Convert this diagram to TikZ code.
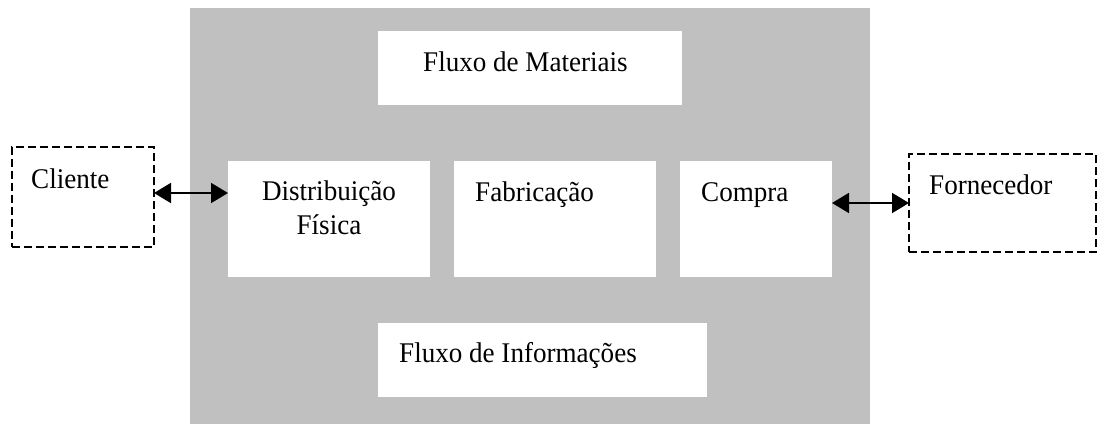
\documentclass[tikz,border=0pt]{standalone}
\usepackage{fontspec}
\setmainfont{Liberation Serif}[FakeStretch=0.95]
\usepackage{tikz}
\usetikzlibrary{arrows.meta}
\definecolor{fundo}{HTML}{C0C0C0}
\tikzset{
  box/.style={fill=white, inner sep=0pt, outer sep=0pt},
  ext/.style={draw, line width=2.2pt, dash pattern=on 8pt off 4pt, inner sep=0pt, outer sep=0pt},
  txt/.style={inner sep=0pt, anchor=base west, font=\fontsize{28.5pt}{33.5pt}\selectfont},
  dbl/.style={line width=1.8pt, {Triangle[length=17pt,width=20pt]}-{Triangle[length=17pt,width=20pt]}}
}
\begin{document}
\begin{tikzpicture}[x=1pt,y=-1pt]
\useasboundingbox (0,0) rectangle (1098,425);
% nodes
\node[fill=fundo, inner sep=0pt, minimum width=680pt, minimum height=416pt] (bg) at (530,216) {};%
\node[box, minimum width=304pt, minimum height=74pt] (mat) at (530,68) {};%
\node[box, minimum width=202pt, minimum height=116pt] (dist) at (329,219) {};%
\node[box, minimum width=202pt, minimum height=116pt] (fab) at (555,219) {};%
\node[box, minimum width=152pt, minimum height=116pt] (comp) at (756,219) {};%
\node[box, minimum width=329pt, minimum height=74pt] (info) at (542.5,360) {};%
\node[ext, minimum width=142pt, minimum height=100pt] (cli) at (83,197) {};%
\node[ext, minimum width=187pt, minimum height=98pt] (forn) at (1002.5,203) {};%

% texts
\node[txt] (tmat) at (423,72) {Fluxo de Materiais};
\node[txt, anchor=base, align=center] (tdist) at (329,234) {Distribuição\\Física};
\node[txt] (tfab) at (475,201) {Fabricação};
\node[txt] (tcomp) at (701,201) {Compra};
\node[txt] (tinfo) at (399,362) {Fluxo de Informações};
\node[txt] (tcli) at (31,189) {Cliente};
\node[txt] (tforn) at (929,194) {Fornecedor};

% edges
\coordinate (a1) at ([yshift=4pt]cli.east);
\draw[dbl] (a1) -- (a1 -| dist.west);
\draw[dbl] (forn.west -| comp.east) -- (forn.west);
\end{tikzpicture}
\end{document}
